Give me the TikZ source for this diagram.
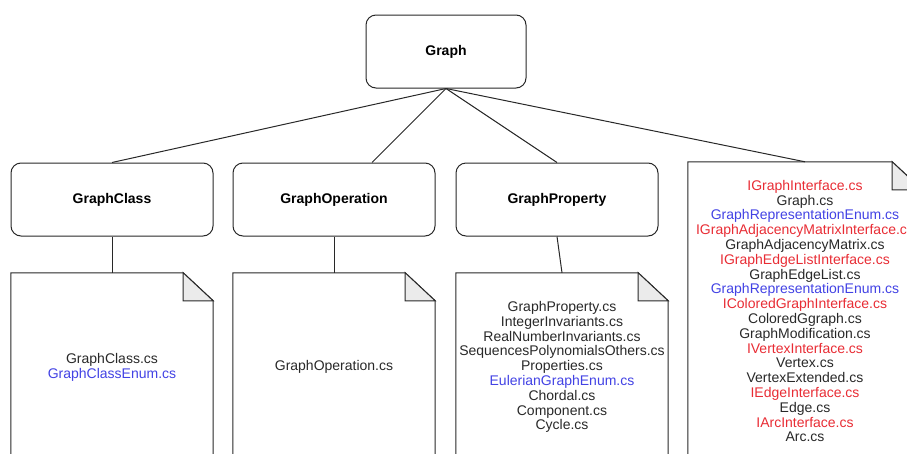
\documentclass[tikz,border=0pt]{standalone}
\usepackage{fontspec}
\setmainfont{Liberation Sans}
\usepackage{tikz}
\usepackage{color}

\definecolor{redfile}{RGB}{232,44,52}
\definecolor{bluefile}{RGB}{66,66,228}
\definecolor{darkline}{RGB}{40,40,40}
\definecolor{foldgray}{RGB}{235,235,235}

\tikzset{
  module/.style={draw=darkline,line width=1pt,rounded corners=10pt,minimum width=202pt,minimum height=73pt,inner sep=0pt,font=\fontsize{14}{16}\selectfont\bfseries},
  filelist/.style={inner sep=0pt,align=center,minimum width=202pt,minimum height=188pt,text=darkline,font=\fontsize{14}{14.8}\selectfont},
  link/.style={draw=darkline,line width=1pt},
}
\newcommand{\iface}[1]{\textcolor{redfile}{#1}}
\newcommand{\enumfile}[1]{\textcolor{bluefile}{#1}}
% page with a folded corner around a node
\newcommand{\dogear}[1]{
\draw[link] (#1.south west) -- (#1.north west) -- ([xshift=-30pt]#1.north east) -- ([yshift=-28pt]#1.north east) -- (#1.south east);
\draw[link,fill=foldgray] ([xshift=-30pt]#1.north east) -- ([xshift=-30pt,yshift=-28pt]#1.north east) -- ([yshift=-28pt]#1.north east) -- cycle;
}

\begin{document}
\begin{tikzpicture}[x=1pt,y=1pt]
\path[use as bounding box,clip] (0,0) rectangle (907,-453);
\node[module,minimum width=160pt] (graph) at (446,-51.5) {Graph};
\node[module] (gclass) at (112,-199.5) {GraphClass};
\node[module] (gop) at (334,-199.5) {GraphOperation};
\node[module] (gprop) at (557,-199.5) {GraphProperty};
\node[filelist] (classfiles) at (112,-367) {GraphClass.cs\\\enumfile{GraphClassEnum.cs}};
\node[filelist] (opfiles) at (334,-367) {GraphOperation.cs};
\node[filelist,minimum width=212pt] (propfiles) at (562,-367) {GraphProperty.cs\\IntegerInvariants.cs\\RealNumberInvariants.cs\\SequencesPolynomialsOthers.cs\\Properties.cs\\\enumfile{EulerianGraphEnum.cs}\\Chordal.cs\\Component.cs\\Cycle.cs};
\node[filelist,minimum width=234pt,minimum height=298pt] (graphfiles) at (805,-311) {\iface{IGraphInterface.cs}\\Graph.cs\\\enumfile{GraphRepresentationEnum.cs}\\\iface{IGraphAdjacencyMatrixInterface.cs}\\GraphAdjacencyMatrix.cs\\\iface{IGraphEdgeListInterface.cs}\\GraphEdgeList.cs\\\enumfile{GraphRepresentationEnum.cs}\\\iface{IColoredGraphInterface.cs}\\ColoredGgraph.cs\\GraphModification.cs\\\iface{IVertexInterface.cs}\\Vertex.cs\\VertexExtended.cs\\\iface{IEdgeInterface.cs}\\Edge.cs\\\iface{IArcInterface.cs}\\Arc.cs};
\dogear{classfiles}
\dogear{opfiles}
\dogear{propfiles}
\dogear{graphfiles}
\draw[link] (graph.south) -- (gclass.north);
\draw[link] (graph.south) -- ([xshift=38pt]gop.north);
\draw[link] (graph.south) -- (gprop.north);
\draw[link] (graph.south) -- (graphfiles.north);
\draw[link] (gclass.south) -- (classfiles.north);
\draw[link] (gop.south) -- (opfiles.north);
\draw[link] (gprop.south) -- (propfiles.north);
\end{tikzpicture}
\end{document}
